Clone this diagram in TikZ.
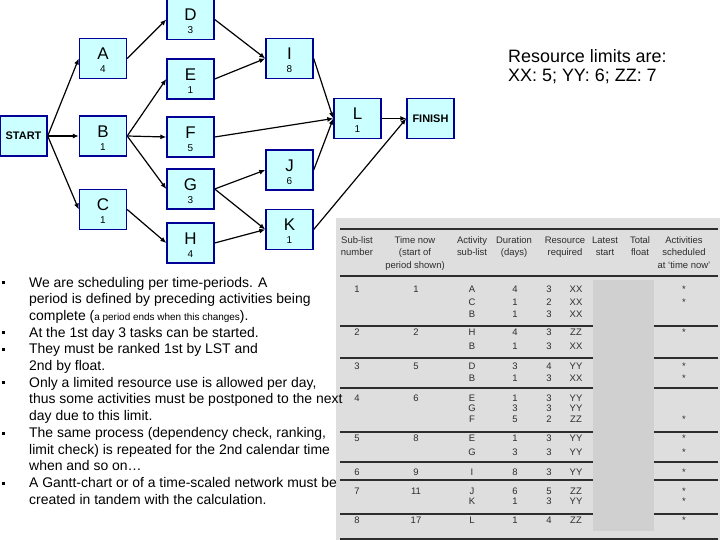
\documentclass[tikz,border=0pt]{standalone}
\usepackage{fontspec}
\setmainfont{Liberation Sans}
\usetikzlibrary{arrows.meta}
\definecolor{NetBlue}{RGB}{0,0,150}
\definecolor{NetCyan}{RGB}{204,255,255}
\definecolor{ScanGray}{RGB}{222,222,222}
\definecolor{MaskGray}{RGB}{208,208,208}
\definecolor{ScanInk}{RGB}{45,45,45}

\begin{document}
\begin{tikzpicture}[x=1bp, y=-1bp,
    bx/.style={draw=NetBlue, fill=NetCyan, line width=1.4bp,
               minimum width=47bp, minimum height=40bp, inner sep=0pt},
    ltr/.style={font=\fontsize{17}{17}\selectfont, anchor=base},
    dur/.style={font=\fontsize{10}{10}\selectfont, anchor=base},
    ends/.style={font=\fontsize{11}{11}\selectfont\bfseries},
    ar/.style={-{Latex[length=6bp,width=5bp]}, line width=1.2bp},
    tb/.style={font=\fontsize{9.5}{9.5}\selectfont, text=ScanInk,
               anchor=base, inner sep=0pt},
    rl/.style={line width=1.3bp, draw=ScanInk},
    txt/.style={font=\fontsize{14}{16.7}\selectfont, anchor=base west,
                align=left, inner sep=0pt},
    blt/.style={fill=black, minimum size=3bp, inner sep=0pt}
  ]
  \useasboundingbox (0,0) rectangle (720,540);

  % Scanned scheduling table (bottom right)
  \fill[ScanGray] (336,218) rectangle (720,540);
  \foreach \r in {229, 276, 326, 358, 388, 432, 462, 480, 514, 539} {
    \draw[rl] (340,\r) -- (718,\r);
  }
  \fill[MaskGray] (593,280) rectangle (654,531);

  \foreach \x/\a/\b/\c [count=\k] in {
    357/Sub-list/number/, 415/Time now/(start of/period shown),
    472/Activity/sub-list/, 514/Duration/(days)/, 565/Resource/required/,
    605/Latest/start/, 640/Total/float/, 684/Activities/scheduled/at `time now'} {
    \node[tb] (hA\k) at (\x,244) {\a};
    \node[tb] (hB\k) at (\x,256) {\b};
    \node[tb] (hC\k) at (\x,268.5) {\c};
  }

  \foreach \y/\n/\t in {
    292.5/1/1, 335.5/2/2, 369.5/3/5, 401.5/4/6,
    441.5/5/8, 475.5/6/9, 494.5/7/11, 523.5/8/17} {
    \node[tb] (sub\n) at (357,\y) {\n};
    \node[tb] (now\n) at (416,\y) {\t};
  }

  \foreach \y/\a/\d/\q/\t/\s [count=\k] in {
    292.5/A/4/3/XX/*, 305.5/C/1/2/XX/*, 317.5/B/1/3/XX/,
    335.5/H/4/3/ZZ/*, 349.5/B/1/3/XX/,
    369.5/D/3/4/YY/*, 381.5/B/1/3/XX/*,
    401.5/E/1/3/YY/, 411.5/G/3/3/YY/, 422.5/F/5/2/ZZ/*,
    441.5/E/1/3/YY/*, 455.5/G/3/3/YY/*,
    475.5/I/8/3/YY/*,
    494.5/J/6/5/ZZ/*, 504.5/K/1/3/YY/*,
    523.5/L/1/4/ZZ/*} {
    \node[tb] (act\k) at (472,\y) {\a};
    \node[tb] (days\k) at (515,\y) {\d};
    \node[tb] (res\k) at (549,\y) {\q};
    \node[tb] (typ\k) at (576,\y) {\t};
    \node[tb] (sch\k) at (684,\y) {\s};
  }

  % Activity network
  \node[bx, ends] (START) at (23.5,136) {START};
  \node[bx, ends] (FINISH) at (430.5,118.5) {FINISH};
  \foreach \i/\x/\y/\d in {
    A/103/58.5/4, B/103/136/1, C/103/209.5/1,
    D/190.5/19.5/3, E/190.5/79/1, F/190.5/137/5, G/190.5/189/3, H/190.5/243/4,
    I/289.5/58.5/8, J/289.5/170/6, K/289.5/229.5/1, L/357.5/118.5/1} {
    \node[bx] (\i) at (\x,\y) {};
    \node[ltr] (\i-l) at (\x,\y+1.5) {\i};
    \node[dur] (\i-d) at (\x,\y+14.5) {\d};
  }
  \foreach \s/\t in {
    START/A, START/B, START/C, A/D, B/E, B/F, B/G, C/H, D/I, E/I,
    F/L, G/J, G/K, H/K, I/L, J/L, K/FINISH, L/FINISH} {
    \draw[ar] (\s.east) -- (\t.west);
  }

  % base of a multi-line node = its last line
  \node[font=\fontsize{18}{20}\selectfont, anchor=base west, align=left,
        inner sep=0pt] (limits) at (508,82)
        {Resource limits are:\\XX: 5; YY: 6; ZZ: 7};

  % Bullet list
  \foreach \y [count=\k] in {287, 337, 353.8, 387, 437.5, 487.7} {
    \node[blt] (dot\k) at (3,\y-4.5) {};
  }
  \node[txt] (b1) at (29,320.4) {We are scheduling per time-periods. A\\
    period is defined by preceding activities being\\
    complete ({\fontsize{10}{10}\selectfont a period ends when this changes}).};
  \node[txt] (b2) at (29,337) {At the 1st day 3 tasks can be started.};
  \node[txt] (b3) at (29,370.5) {They must be ranked 1st by LST and\\
    2nd by float.};
  \node[txt] (b4) at (29,420.4) {Only a limited resource use is allowed per day,\\
    thus some activities must be postponed to the next\\
    day due to this limit.};
  \node[txt] (b5) at (29,470.9) {The same process (dependency check, ranking,\\
    limit check) is repeated for the 2nd calendar time\\
    when and so on\dots};
  \node[txt] (b6) at (29,504.4) {A Gantt-chart or of a time-scaled network must be\\
    created in tandem with the calculation.};
\end{tikzpicture}
\end{document}
